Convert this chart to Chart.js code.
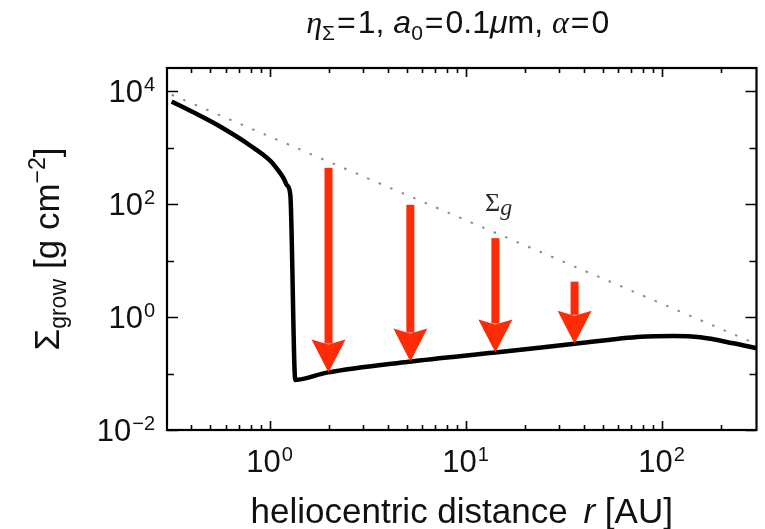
<!DOCTYPE html>
<html>
<head>
<meta charset="utf-8">
<script src="https://cdn.jsdelivr.net/npm/chart.js@4.4.1/dist/chart.umd.min.js"></script>
<style>
  html, body { margin: 0; padding: 0; background: #fff; }
  #wrap { width: 765px; height: 529px; position: relative; }
</style>
</head>
<body>
<div id="wrap"><canvas id="chart"></canvas></div>
<script>
'use strict';

// Sigma_grow profile (heliocentric distance in AU, surface density in g cm^-2)
var rGrow = [0.317, 0.421, 0.543, 0.80, 1.01, 1.093, 1.181, 1.228, 1.277, 1.354, 1.96, 5.13, 14.2, 36.0, 78.4, 115.6, 157.7, 232, 305];
var sigmaGrow = [6640, 4050, 2535, 1090, 590, 425, 288, 217, 147, 0.077, 0.104, 0.1625, 0.237, 0.337, 0.451, 0.464, 0.44, 0.344, 0.281];

// gas surface density Sigma_g (power law, dotted)
var rGas = [0.317, 305];
var sigmaGas = [8730, 0.333];

// red arrows: from Sigma_g-ish level down to Sigma_grow
var arrowR = [2.0, 5.23, 14.2, 36.0];
var arrowFrom = [443, 97.8, 25.1, 4.26];
var arrowTo = [0.104, 0.163, 0.237, 0.337];

// axes
var xRange = [0.317, 305];
var yRange = [0.01, 2.6e4];
var xTickExps = [0, 1, 2];            // labelled decades on r
var xMinorTicks = [0.4, 0.5, 0.6, 0.7, 0.8, 0.9, 2, 3, 4, 5, 6, 7, 8, 9, 20, 30, 40, 50, 60, 70, 80, 90, 200];
var yTickExps = [-2, 0, 2, 4];        // labelled decades on Sigma
var yMinorTicks = [0.1, 10, 1000];

var SANS = '"Liberation Sans", Arial, Helvetica, sans-serif';
var SERIF = '"Liberation Serif", "Times New Roman", serif';
var RED = '#ff2a06';

function pts(xs, ys) {
    return xs.map(function(x, i) { return { x: x, y: ys[i] }; });
}

// draw a row of text pieces: [text, font, dy, extraSpaceAfter, extraSpaceBefore]
function drawRuns(ctx, runs, x, y, align) {
    var total = 0;
    var widths = runs.map(function(r) {
        ctx.font = r[1];
        var w = ctx.measureText(r[0]).width + (r[3] || 0) + (r[4] || 0);
        total += w;
        return w;
    });
    var cx = align === 'center' ? x - total / 2 : (align === 'right' ? x - total : x);
    runs.forEach(function(r, i) {
        ctx.font = r[1];
        ctx.fillText(r[0], cx + (r[4] || 0), y + (r[2] || 0));
        cx += widths[i];
    });
}

var figurePlugin = {
    id: 'figure',
    afterDatasetsDraw: function(chart) {
        var ctx = chart.ctx;
        var xs = chart.scales.x, ys = chart.scales.y;
        ctx.save();
        ctx.fillStyle = RED;
        arrowR.forEach(function(r, i) {
            var x = xs.getPixelForValue(r);
            var y0 = ys.getPixelForValue(arrowFrom[i]);
            var y1 = ys.getPixelForValue(arrowTo[i]);
            var headLen = 33, headHalf = 17, shaftHalf = 4;
            ctx.fillRect(x - shaftHalf, y0, shaftHalf * 2, (y1 - headLen + 4) - y0);
            ctx.beginPath();
            ctx.moveTo(x - headHalf, y1 - headLen);
            ctx.lineTo(x, y1 - headLen + 5);
            ctx.lineTo(x + headHalf, y1 - headLen);
            ctx.lineTo(x, y1);
            ctx.closePath();
            ctx.fill();
        });
        ctx.restore();
    },
    afterDraw: function(chart) {
        var ctx = chart.ctx;
        var a = chart.chartArea;
        var xs = chart.scales.x, ys = chart.scales.y;
        ctx.save();
        ctx.strokeStyle = '#000';
        ctx.fillStyle = '#111';

        // frame
        ctx.lineWidth = 2.2;
        ctx.strokeRect(a.left, a.top, a.right - a.left, a.bottom - a.top);

        // inward ticks on all four sides
        ctx.lineWidth = 1.6;
        ctx.beginPath();
        function xTick(v, len) {
            var x = Math.round(xs.getPixelForValue(v)) + 0.5;
            ctx.moveTo(x, a.bottom); ctx.lineTo(x, a.bottom - len);
            ctx.moveTo(x, a.top); ctx.lineTo(x, a.top + len);
        }
        function yTick(v, len) {
            var y = Math.round(ys.getPixelForValue(v)) + 0.5;
            ctx.moveTo(a.left, y); ctx.lineTo(a.left + len, y);
            ctx.moveTo(a.right, y); ctx.lineTo(a.right - len, y);
        }
        xTickExps.forEach(function(e) { xTick(Math.pow(10, e), 9); });
        xMinorTicks.forEach(function(v) { xTick(v, 5); });
        yTickExps.forEach(function(e) { yTick(Math.pow(10, e), 11); });
        yMinorTicks.forEach(function(v) { yTick(v, 7); });
        ctx.stroke();

        // tick labels 10^n
        var big = '31px ' + SANS, small = '20px ' + SANS;
        ctx.textBaseline = 'alphabetic';
        xTickExps.forEach(function(e) {
            var x = xs.getPixelForValue(Math.pow(10, e));
            drawRuns(ctx, [['10', big], [String(e).replace('-', '\u2212'), small, -11, 0, 1]], x, 472, 'center');
        });
        yTickExps.forEach(function(e) {
            var y = ys.getPixelForValue(Math.pow(10, e));
            drawRuns(ctx, [['10', big], [String(e).replace('-', '\u2212'), small, -11, 0, 1]], a.left - 12, y + 11, 'right');
        });

        // x axis title
        drawRuns(ctx, [
            ['heliocentric distance ', '35px ' + SANS, 0, 6],
            ['r', 'italic 35px ' + SANS],
            [' [AU]', '35px ' + SANS]
        ], (a.left + a.right) / 2, 523, 'center');

        // y axis title, rotated
        ctx.save();
        ctx.translate(59, (a.top + a.bottom) / 2);
        ctx.rotate(-Math.PI / 2);
        drawRuns(ctx, [
            ['\u03a3', '35px ' + SANS],
            ['grow', '23px ' + SANS, 7, 10],
            ['[g cm', '35px ' + SANS],
            ['\u22122', '23px ' + SANS, -14],
            [']', '35px ' + SANS]
        ], 0, 0, 'center');
        ctx.restore();

        // title
        var T = '32px ', S = '21px ';
        drawRuns(ctx, [
            ['\u03b7', 'italic ' + T + SERIF],
            ['\u03a3', S + SANS, 7],
            ['=', T + SANS, 0, 2, 2],
            ['1, ', T + SANS],
            ['a', 'italic ' + T + SANS],
            ['0', S + SANS, 7],
            ['=', T + SANS, 0, 2, 2],
            ['0.1', T + SANS],
            ['\u03bc', 'italic ' + T + SANS],
            ['m, ', T + SANS],
            ['\u03b1', 'italic ' + T + SERIF],
            ['=', T + SANS, 0, 2, 2],
            ['0', T + SANS]
        ], (a.left + a.right) / 2 - 4, 33, 'center');

        // Sigma_g label next to the dotted line
        ctx.fillStyle = '#2a2a2a';
        drawRuns(ctx, [
            ['\u03a3', '26px ' + SERIF],
            ['g', 'italic 24px ' + SERIF, 4]
        ], 485, 211, 'left');

        ctx.restore();
    }
};

var chart = new Chart(document.getElementById('chart'), {
    type: 'line',
    data: {
        datasets: [{
            label: 'Sigma_grow',
            data: pts(rGrow, sigmaGrow),
            borderColor: '#000',
            borderWidth: 4.5,
            pointRadius: 0,
            cubicInterpolationMode: 'monotone',
            fill: false
        }, {
            label: 'Sigma_g',
            data: pts(rGas, sigmaGas),
            borderColor: '#8c8c8c',
            borderWidth: 2,
            borderDash: [2.5, 10],
            pointRadius: 0,
            fill: false
        }]
    },
    options: {
        responsive: true,
        maintainAspectRatio: false,
        animation: false,
        devicePixelRatio: 1,
        events: [],
        layout: {
            padding: { left: 167, right: 8.5, top: 68, bottom: 99 }
        },
        plugins: {
            legend: { display: false },
            tooltip: { enabled: false }
        },
        scales: {
            x: {
                type: 'logarithmic',
                min: xRange[0],
                max: xRange[1],
                display: false
            },
            y: {
                type: 'logarithmic',
                min: yRange[0],
                max: yRange[1],
                display: false
            }
        }
    },
    plugins: [figurePlugin]
});
</script>
</body>
</html>
